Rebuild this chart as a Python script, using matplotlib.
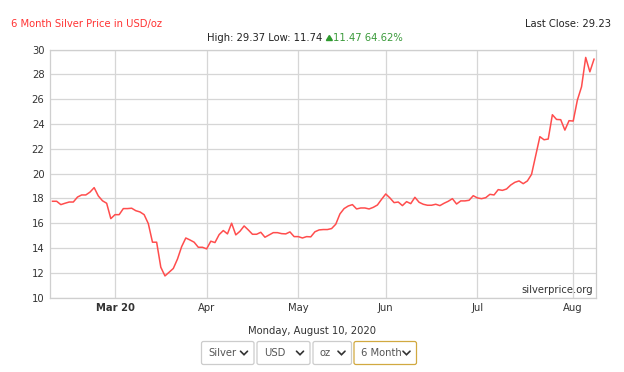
import numpy as np
import pandas as pd
import matplotlib
matplotlib.use("Agg")
import matplotlib.pyplot as plt
from matplotlib.patches import FancyBboxPatch, Rectangle

# ---------------- data ----------------
start_date = "2020-02-10"
end_date = "2020-08-10"
prices = [
    17.76, 17.76, 17.49, 17.60, 17.70, 17.70, 18.10, 18.27, 18.27, 18.50,
    18.86, 18.19, 17.80, 17.60, 16.36, 16.68, 16.68, 17.17, 17.17, 17.20,
    17.00, 16.90, 16.68, 15.96, 14.46, 14.46, 12.44, 11.74, 12.04, 12.34,
    13.10, 14.10, 14.80, 14.64, 14.46, 14.05, 14.05, 13.92, 14.54, 14.43,
    15.07, 15.40, 15.13, 15.99, 15.05, 15.34, 15.77, 15.45, 15.10, 15.10,
    15.26, 14.86, 15.05, 15.23, 15.23, 15.15, 15.13, 15.29, 14.91, 14.91,
    14.80, 14.91, 14.89, 15.30, 15.45, 15.48, 15.48, 15.56, 15.91, 16.74,
    17.17, 17.38, 17.49, 17.14, 17.22, 17.22, 17.14, 17.27, 17.46, 17.92,
    18.35, 18.03, 17.65, 17.70, 17.41, 17.73, 17.57, 18.08, 17.68, 17.52,
    17.44, 17.44, 17.52, 17.41, 17.60, 17.76, 17.97, 17.54, 17.79, 17.79,
    17.84, 18.21, 18.03, 17.97, 18.05, 18.32, 18.27, 18.70, 18.64, 18.75,
    19.07, 19.29, 19.40, 19.18, 19.40, 19.93, 21.44, 22.97, 22.72, 22.78,
    24.74, 24.36, 24.34, 23.50, 24.26, 24.23, 25.92, 26.99, 29.36, 28.20,
    29.22,
]
month_labels = ["Mar 20", "Apr", "May", "Jun", "Jul", "Aug"]
y_ticks = [10, 12, 14, 16, 18, 20, 22, 24, 26, 28, 30]

title_text = "6 Month Silver Price in USD/oz"
last_close_text = "Last Close: 29.23"
high_low_text = "High: 29.37 Low: 11.74 "
change_text = "11.47 64.62%"
date_text = "Monday, August 10, 2020"
dropdowns = ["Silver", "USD", "oz", "6 Month"]

# ---------------- figure ----------------
W, H = 624, 372
fig = plt.figure(figsize=(W / 100, H / 100), dpi=100)
fig.patch.set_facecolor("white")
FS = 7.2
plt.rcParams["font.family"] = ["DejaVu Sans"]

dates = pd.bdate_range(start_date, end_date)
x = np.arange(len(prices))
month_idx = []
for m in range(3, 9):
    idx = np.where(dates.month == m)[0]
    month_idx.append(int(idx[0]))

ax = fig.add_axes([50 / W, 1 - 297.5 / H, 545.7 / W, 248 / H])
ax.plot(x, prices, color="#ff4d4d", lw=1.1, solid_joinstyle="round", zorder=3)
ax.set_xlim(-0.6, 130.4)
ax.set_ylim(10, 30)
ax.set_yticks(y_ticks)
ax.set_yticklabels([str(v) for v in y_ticks], fontsize=FS, color="#333333")
ax.set_xticks(month_idx)
ax.set_xticklabels(month_labels, fontsize=FS, color="#333333")
ax.get_xticklabels()[0].set_fontweight("bold")
ax.tick_params(length=0, pad=4)
ax.grid(True, color="#d6d6d6", lw=0.9, zorder=0)
for s in ax.spines.values():
    s.set_color("#cfcfcf")
    s.set_linewidth(0.9)
ax.text(0.995, 0.012, "silverprice.org", transform=ax.transAxes, ha="right",
        va="bottom", fontsize=FS, color="#333333", zorder=4)

# ---------------- overlay (header / footer UI) ----------------
ui = fig.add_axes([0, 0, 1, 1], zorder=5)
ui.set_xlim(0, W)
ui.set_ylim(H, 0)
ui.axis("off")
ui.patch.set_alpha(0)

ui.text(11, 24, title_text, fontsize=FS, color="#ff3333", ha="left", va="center")
ui.text(611, 24, last_close_text, fontsize=FS, color="#222222", ha="right", va="center")
t1 = ui.text(207, 38, high_low_text, fontsize=FS, color="#222222", ha="left", va="center")
fig.canvas.draw()
bb = t1.get_window_extent()
x_end = bb.x1 * W / fig.bbox.width
ui.plot([x_end + 1, x_end + 4, x_end + 7], [40.5, 35.5, 40.5], color="#2e9a2e", lw=0)
ui.fill([x_end + 1, x_end + 4, x_end + 7], [40.5, 35.5, 40.5], color="#2e9a2e")
ui.text(x_end + 8, 38, change_text, fontsize=FS, color="#3a9a3a", ha="left", va="center")

ui.text(312, 331.5, date_text, fontsize=FS, color="#333333", ha="center", va="center")

boxes = [(201.5, 254), (257, 310), (313, 351.5), (354, 416.5)]
for i, (label, (x0, x1)) in enumerate(zip(dropdowns, boxes)):
    last = i == len(dropdowns) - 1
    ec = "#d1a940" if last else "#cccccc"
    p = FancyBboxPatch((x0, 341.5), x1 - x0, 23, boxstyle="round,pad=0,rounding_size=2",
                       fc="white", ec=ec, lw=0.9)
    ui.add_patch(p)
    t = ui.text(x0 + 7, 353, label, fontsize=FS, color="#555555", ha="left", va="center")
    clip = Rectangle((x0, 341.5), (x1 - x0) - 19, 23, transform=ui.transData)
    t.set_clip_path(clip)
    cx = x1 - 10
    ui.plot([cx - 3.5, cx, cx + 3.5], [351.2, 354.7, 351.2], color="#333333", lw=1.2,
            solid_capstyle="round", solid_joinstyle="miter")

fig.savefig("out.png", dpi=100, facecolor="white")
